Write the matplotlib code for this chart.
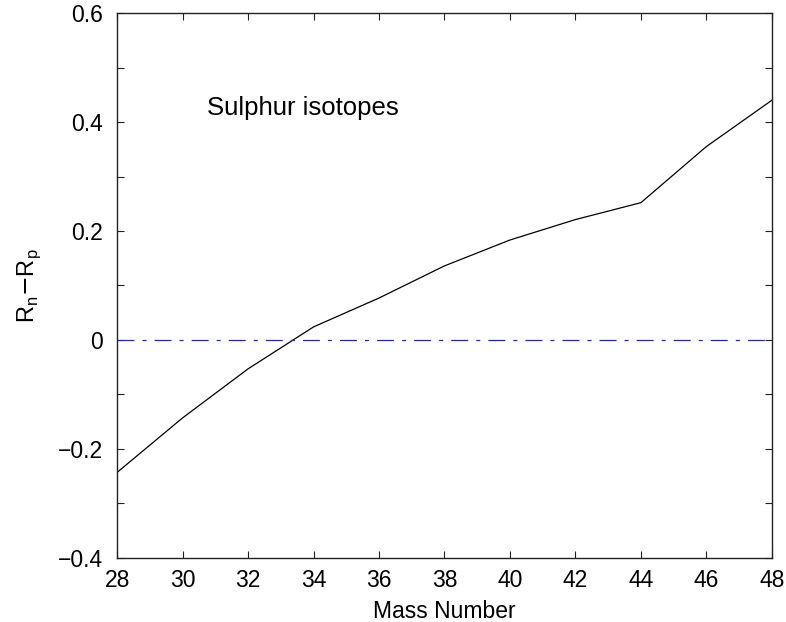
import matplotlib
matplotlib.use("Agg")
import matplotlib.pyplot as plt
from matplotlib.ticker import MultipleLocator

plt.rcParams['font.family'] = ['Liberation Sans', 'DejaVu Sans']
plt.rcParams['lines.scale_dashes'] = False

# Neutron skin thickness along the sulphur isotope chain
mass_number = [28, 30, 32, 34, 36, 38, 40, 42, 44, 46, 48]
skin = [-0.243, -0.143, -0.053, 0.024, 0.077, 0.136, 0.1835, 0.221, 0.252, 0.355, 0.440]
ytick_values = [-0.4, -0.2, 0.0, 0.2, 0.4, 0.6]
ytick_labels = ['\u22120.4', '\u22120.2', '0', '0.2', '0.4', '0.6']

fig = plt.figure(figsize=(7.86, 6.22), dpi=100)
ax = fig.add_axes([0.149, 0.103, 0.833, 0.876])

ax.plot(mass_number, skin, color='black', lw=0.9)
ax.axhline(0.0, color='#2020e0', lw=0.9, linestyle=(0, (12.2, 5.8, 2.9, 5.8)))

ax.set_xlim(28, 48)
ax.set_ylim(-0.4, 0.6)
ax.xaxis.set_major_locator(MultipleLocator(2))
ax.set_yticks(ytick_values)
ax.set_yticklabels(ytick_labels)
ax.yaxis.set_minor_locator(MultipleLocator(0.1))

ax.tick_params(which='both', direction='in', top=True, right=True,
               length=5, width=0.8, labelsize=16.5, color='#222222')
ax.tick_params(axis='x', pad=8)
ax.tick_params(axis='y', pad=10)
for s in ax.spines.values():
    s.set_linewidth(1.0)
    s.set_color('#222222')

ax.set_xlabel('Mass Number', fontsize=16.5, labelpad=6)
ax.set_ylabel(r'R$_\mathregular{n}$$-$R$_\mathregular{p}$', fontsize=17, labelpad=11)

ax.text(30.75, 0.426, 'Sulphur isotopes', fontsize=18.5, ha='left', va='center')

fig.savefig('out.png', dpi=100)
